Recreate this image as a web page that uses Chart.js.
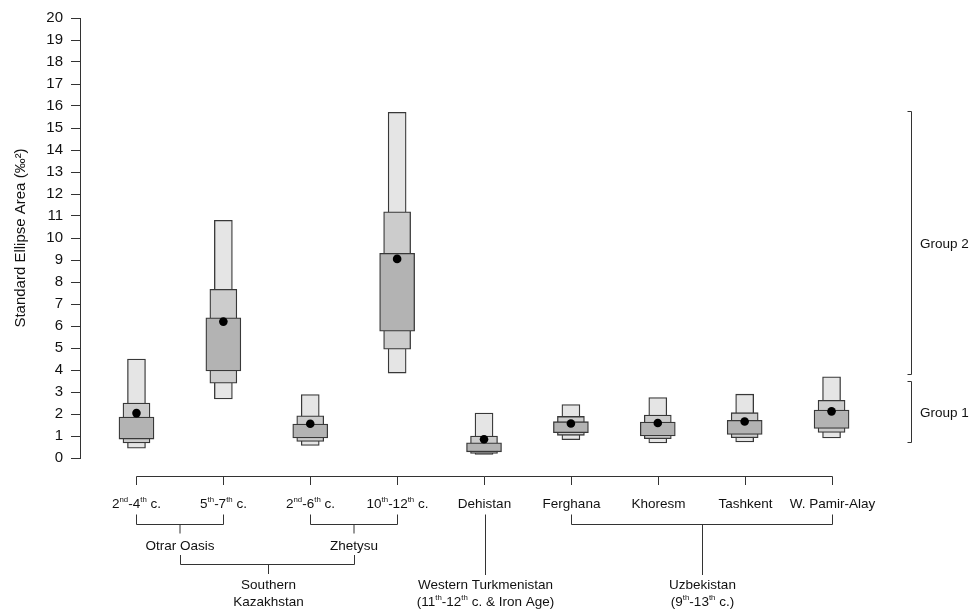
<!DOCTYPE html>
<html>
<head>
<meta charset="utf-8">
<script src="https://cdn.jsdelivr.net/npm/chart.js@4"></script>
<style>
  html, body { margin: 0; padding: 0; background: #fff; }
  #wrap { width: 975px; height: 613px; position: relative; }
</style>
</head>
<body>
<div id="wrap"><canvas id="siberChart"></canvas></div>
<script>
(function () {
  "use strict";

  // ---- data ----
  // {..} marks superscript text
  const categories = ["2{nd}-4{th} c.", "5{th}-7{th} c.", "2{nd}-6{th} c.", "10{th}-12{th} c.",
    "Dehistan", "Ferghana", "Khoresm", "Tashkent", "W. Pamir-Alay"];

  const lo95 = [0.45, 2.68, 0.57, 3.86, 0.16, 0.83, 0.68, 0.73, 0.91];
  const hi95 = [4.50, 10.80, 2.88, 15.71, 2.04, 2.43, 2.75, 2.90, 3.69];
  const lo75 = [0.68, 3.40, 0.75, 4.95, 0.21, 1.03, 0.88, 0.92, 1.16];
  const hi75 = [2.50, 7.67, 1.92, 11.19, 1.00, 1.89, 1.95, 2.06, 2.62];
  const lo50 = [0.86, 3.96, 0.91, 5.76, 0.28, 1.15, 1.00, 1.07, 1.34];
  const hi50 = [1.86, 6.37, 1.54, 9.30, 0.69, 1.65, 1.63, 1.71, 2.18];
  const modes = [2.04, 6.20, 1.56, 9.05, 0.85, 1.57, 1.59, 1.66, 2.12];

  const regionNames = ["Otrar Oasis", "Zhetysu"];
  const regionMembers = [[0, 1], [2, 3]];
  const countryNames = [["Southern", "Kazakhstan"],
    ["Western Turkmenistan", "(11{th}-12{th} c. & Iron Age)"],
    ["Uzbekistan", "(9{th}-13{th} c.)"]];
  const countryMembers = [[0, 1, 2, 3], [4], [5, 6, 7, 8]];

  const groupNames = ["Group 1", "Group 2"];
  const groupRanges = [[0.74, 3.50], [3.84, 15.76]];

  const yTicks = [0, 20];

  // ---- helpers ----
  const FONT = '"Liberation Sans", Arial, Helvetica, sans-serif';
  const INK = "#333";
  const range = (lo, hi) => lo.map((v, i) => ({ x: i + 1, y: [v, hi[i]] }));

  function parts(str) {
    return str.split(/(\{[^}]*\})/).filter(Boolean).map((s) =>
      s[0] === "{" ? { t: s.slice(1, -1), sup: true } : { t: s, sup: false });
  }

  function drawRich(ctx, str, cx, cy, size) {
    const segs = parts(str);
    const supSize = size * 0.58;
    let total = 0;
    segs.forEach((s) => {
      ctx.font = (s.sup ? supSize : size) + "px " + FONT;
      s.w = ctx.measureText(s.t).width;
      total += s.w;
    });
    let x = cx - total / 2;
    ctx.textAlign = "left";
    ctx.textBaseline = "middle";
    segs.forEach((s) => {
      ctx.font = (s.sup ? supSize : size) + "px " + FONT;
      ctx.fillText(s.t, x, s.sup ? cy - size * 0.32 : cy);
      x += s.w;
    });
  }

  function line(ctx, x1, y1, x2, y2) {
    ctx.beginPath();
    ctx.moveTo(x1, y1);
    ctx.lineTo(x2, y2);
    ctx.stroke();
  }

  // bracket joining xs at yTop, bar at yBar, connector down to yEnd
  function bracket(ctx, xs, yTop, yBar, yEnd) {
    const mid = xs.reduce((a, b) => a + b, 0) / xs.length;
    if (xs.length === 1) { line(ctx, mid, yTop, mid, yEnd); return mid; }
    const a = xs[0], b = xs[xs.length - 1];
    line(ctx, a, yTop, a, yBar);
    line(ctx, b, yTop, b, yBar);
    line(ctx, a, yBar, b, yBar);
    line(ctx, mid, yBar, mid, yEnd);
    return mid;
  }

  const crisp = (v) => Math.round(v) + 0.5;

  // ---- annotation plugin: category tree + group brackets ----
  const annotations = {
    id: "annotations",
    afterDraw(chart) {
      const ctx = chart.ctx;
      const xs = chart.scales.x;
      const ys = chart.scales.y;
      const px = categories.map((c, i) => crisp(xs.getPixelForValue(i + 1)));
      const size = 13.5;

      ctx.save();
      ctx.strokeStyle = INK;
      ctx.fillStyle = "#111";
      ctx.lineWidth = 1;

      // axis line with downward ticks
      const axY = 476.5;
      line(ctx, px[0], axY, px[px.length - 1], axY);
      px.forEach((x) => line(ctx, x, axY, x, axY + 8.5));
      categories.forEach((c, i) => drawRich(ctx, c, px[i], 504, size));

      // regions
      const regionX = regionMembers.map((m, r) => {
        const mid = bracket(ctx, m.map((i) => px[i]), 514.5, 524.5, 533.5);
        drawRich(ctx, regionNames[r], mid, 546, size);
        return mid;
      });

      // countries
      countryMembers.forEach((m, c) => {
        let mid;
        if (m.length === 4 && m[0] === 0) {
          const rx = regionX.map(crisp);
          line(ctx, rx[0], 555, rx[0], 564.5);
          line(ctx, rx[1], 555, rx[1], 564.5);
          line(ctx, rx[0], 564.5, rx[1], 564.5);
          mid = crisp((rx[0] + rx[1]) / 2);
          line(ctx, mid, 564.5, mid, 574);
        } else {
          const cx = m.map((i) => px[i]);
          mid = crisp(cx.reduce((a, b) => a + b, 0) / cx.length);
          if (cx.length > 1) {
            bracket(ctx, cx, 514.5, 524.5, 524.5);
          }
          line(ctx, mid, cx.length > 1 ? 524.5 : 514.5, mid, 575);
        }
        drawRich(ctx, countryNames[c][0], mid, 585, size);
        drawRich(ctx, countryNames[c][1], mid, 602.5, size);
      });

      // right-hand group brackets
      const gx = 911.5;
      groupRanges.forEach((r, g) => {
        const top = crisp(ys.getPixelForValue(r[1]));
        const bot = crisp(ys.getPixelForValue(r[0]));
        line(ctx, gx, top, gx, bot);
        line(ctx, gx - 4, top, gx, top);
        line(ctx, gx - 4, bot, gx, bot);
        ctx.font = size + "px " + FONT;
        ctx.textAlign = "left";
        ctx.textBaseline = "middle";
        ctx.fillText(groupNames[g], 920, (top + bot) / 2 + 1);
      });
      ctx.restore();
    },
  };

  const barStyle = {
    type: "bar",
    grouped: false,
    borderColor: "#383838",
    borderWidth: 1.3,
    borderSkipped: false,
    categoryPercentage: 1,
    barPercentage: 1,
  };

  new Chart(document.getElementById("siberChart"), {
    type: "bar",
    data: {
      datasets: [
        {
          type: "line",
          label: "Mode",
          data: modes.map((v, i) => ({ x: i + 1, y: v })),
          showLine: false,
          pointRadius: 4.3,
          pointBackgroundColor: "#000",
          pointBorderWidth: 0,
        },
        Object.assign({ label: "50%", data: range(lo50, hi50), backgroundColor: "#b3b3b3", maxBarThickness: 35 }, barStyle),
        Object.assign({ label: "75%", data: range(lo75, hi75), backgroundColor: "#cccccc", maxBarThickness: 27 }, barStyle),
        Object.assign({ label: "95%", data: range(lo95, hi95), backgroundColor: "#e5e5e5", maxBarThickness: 18 }, barStyle),
      ],
    },
    options: {
      responsive: true,
      maintainAspectRatio: false,
      animation: false,
      layout: { padding: { left: 0, top: 18, right: 100, bottom: 155 } },
      plugins: {
        legend: { display: false },
        tooltip: { enabled: false },
      },
      scales: {
        x: {
          type: "linear",
          display: false,
          offset: false,
          min: 0.35,
          max: 9.5,
          ticks: { stepSize: 1, includeBounds: false },
        },
        y: {
          type: "linear",
          min: yTicks[0],
          max: yTicks[1],
          afterFit: (scale) => { scale.width = 80; },
          border: { display: true, color: INK, width: 1 },
          grid: { drawOnChartArea: false, drawTicks: true, tickLength: 9, color: INK },
          ticks: {
            stepSize: 1,
            padding: 8,
            color: "#111",
            font: { family: FONT, size: 15 },
          },
          title: {
            display: true,
            text: "Standard Ellipse Area (‰²)",
            color: "#111",
            font: { family: FONT, size: 15 },
            padding: { top: 12, bottom: 0 },
          },
        },
      },
    },
    plugins: [annotations],
  });
})();
</script>
</body>
</html>
